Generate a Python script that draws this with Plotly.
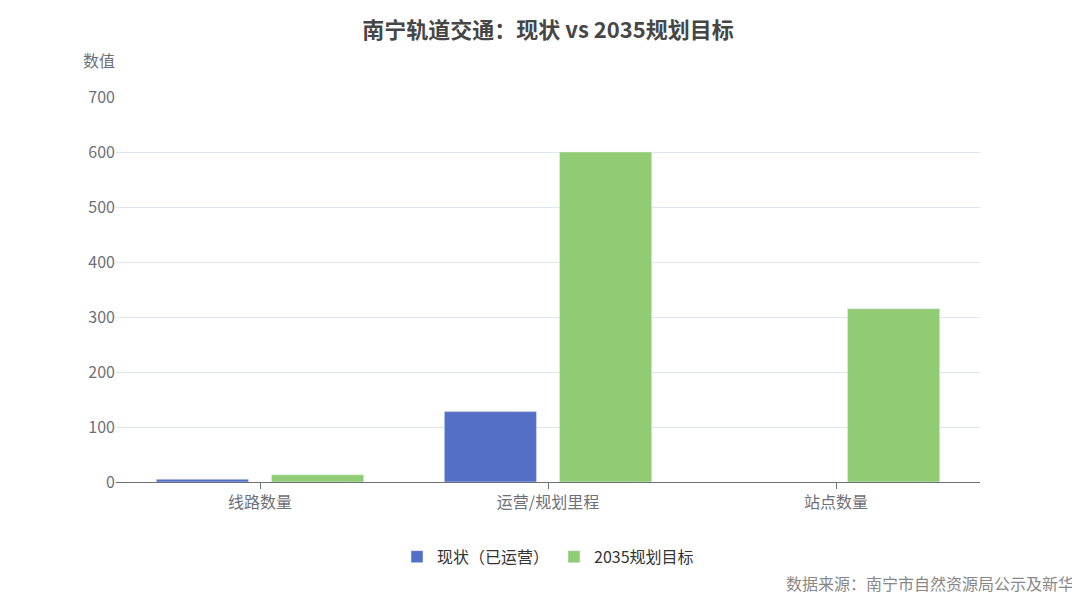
import plotly.graph_objects as go

categories = ["线路数量", "运营/规划里程", "站点数量"]
current = [5, 128, None]
target = [13, 600, 315]
tick_vals = [0, 100, 200, 300, 400, 500, 600, 700]

font = "Noto Sans CJK SC"
fig = go.Figure()
fig.add_bar(x=categories, y=current, name="现状（已运营）", marker_color="#5470c6")
fig.add_bar(x=categories, y=target, name="2035规划目标", marker_color="#91cc75")
fig.update_layout(
    width=1080, height=593, plot_bgcolor="white", paper_bgcolor="white",
    font=dict(family=font, color="#6e7079", size=16),
    title=dict(text="<b>南宁轨道交通：现状 vs 2035规划目标</b>", x=0.5, y=0.975, xanchor="center",
               font=dict(size=22, color="#464646")),
    margin=dict(l=108, r=108, t=89, b=119, autoexpand=False),
    bargap=0.2, bargroupgap=0.2,
    legend=dict(orientation="h", x=0.5, xanchor="center", y=-0.15, yanchor="top",
                font=dict(size=16, color="#333")),
    xaxis=dict(showline=True, linecolor="#6e7079", ticks="outside", ticklen=6,
               tickcolor="#6e7079", tickfont=dict(color="#6e7079", size=16), automargin=False),
    yaxis=dict(range=[0, 700], tickvals=tick_vals, gridcolor="#e0e6f1", zeroline=False,
               tickfont=dict(size=16), ticksuffix="   ", automargin=False),
)
fig.add_annotation(text="数值", xref="paper", yref="paper", x=-0.02, y=1.06,
                   showarrow=False, xanchor="center", yanchor="bottom", font=dict(size=16, color="#6e7079"))
fig.add_annotation(text="数据来源：南宁市自然资源局公示及新华网", xref="paper", yref="paper",
                   x=1.13, y=-0.262, xanchor="right", yanchor="middle", showarrow=False,
                   font=dict(size=16, color="#888"))
fig.write_html("out.html")
